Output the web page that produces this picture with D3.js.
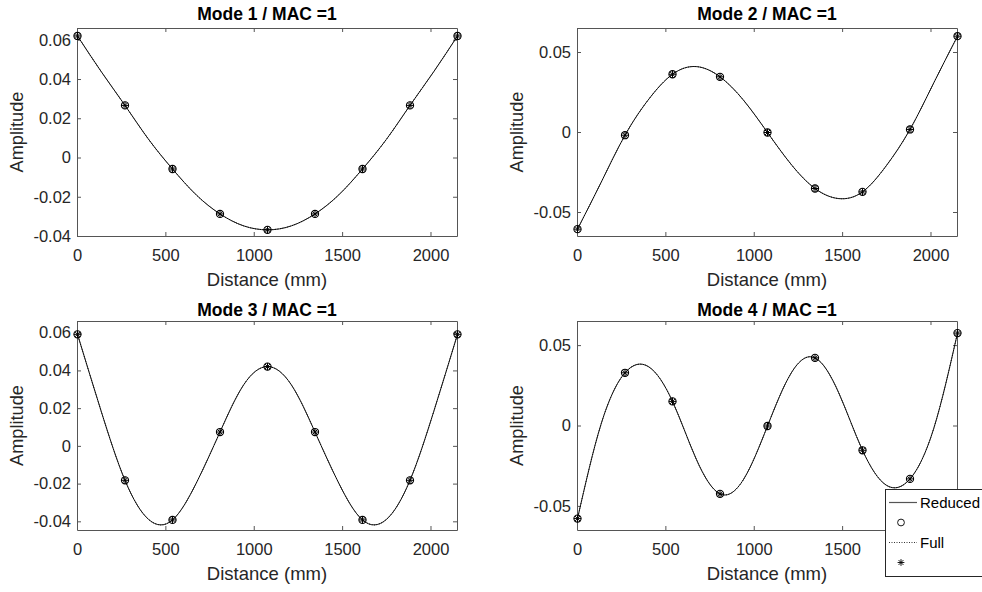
<!DOCTYPE html>
<html>
<head>
<meta charset="utf-8">
<script src="https://cdn.jsdelivr.net/npm/d3@7"></script>
<style>
  html, body { margin: 0; padding: 0; background: #fff; }
  svg { display: block; font-family: "Liberation Sans", Arial, Helvetica, sans-serif; }
</style>
</head>
<body>
<svg id="chart" width="982" height="592"></svg>
<script>
// ---------------- data ----------------
const titles = ["Mode 1 / MAC =1", "Mode 2 / MAC =1", "Mode 3 / MAC =1", "Mode 4 / MAC =1"];
const xLabel = "Distance (mm)";
const yLabel = "Amplitude";
const legendLabels = ["Reduced", "", "Full", ""];

// measurement node positions (mm)
const xNodes = [0, 268.75, 537.5, 806.25, 1075, 1343.75, 1612.5, 1881.25, 2150];
// fine positions along the beam for the mode-shape line (mm)
const xCurve = [0, 134.375, 268.75, 403.125, 537.5, 671.875, 806.25, 940.625, 1075,
                1209.375, 1343.75, 1478.125, 1612.5, 1746.875, 1881.25, 2015.625, 2150];

// node amplitudes (Reduced circles and Full asterisks coincide)
const mode1Nodes = [0.0622, 0.0268, -0.0056, -0.0285, -0.0366, -0.0285, -0.0056, 0.0268, 0.0622];
const mode2Nodes = [-0.0604, -0.0017, 0.0364, 0.0348, 0.0, -0.0350, -0.0371, 0.0019, 0.0602];
const mode3Nodes = [0.0594, -0.0180, -0.0390, 0.0076, 0.0423, 0.0076, -0.0390, -0.0180, 0.0594];
const mode4Nodes = [-0.0576, 0.0331, 0.0153, -0.0422, 0.0, 0.0424, -0.0151, -0.0329, 0.0578];

// mode-shape lines (Reduced solid and Full dotted coincide)
const mode1Curve = [0.0622, 0.0440, 0.0268, 0.0094, -0.0056, -0.0188, -0.0285, -0.0346, -0.0366,
                    -0.0346, -0.0285, -0.0188, -0.0056, 0.0094, 0.0268, 0.0440, 0.0622];
const mode2Curve = [-0.0604, -0.0310, -0.0017, 0.0208, 0.0364, 0.0412, 0.0348, 0.0200, 0.0,
                    -0.0200, -0.0350, -0.0413, -0.0371, -0.0208, 0.0019, 0.0310, 0.0602];
const mode3Curve = [0.0594, 0.0185, -0.0180, -0.0388, -0.0390, -0.0195, 0.0076, 0.0327, 0.0423,
                    0.0327, 0.0076, -0.0195, -0.0390, -0.0388, -0.0180, 0.0185, 0.0594];
const mode4Curve = [-0.0576, 0.0015, 0.0331, 0.0368, 0.0153, -0.0206, -0.0422, -0.0330, 0.0,
                    0.0330, 0.0424, 0.0206, -0.0151, -0.0368, -0.0329, -0.0015, 0.0578];

const xDomain = [0, 2150];
const xTicks = [0, 500, 1000, 1500, 2000];
const yDomains = [[-0.04, 0.066], [-0.065, 0.065], [-0.0446, 0.0662], [-0.065, 0.065]];
const yTicks = [[-0.04, -0.02, 0, 0.02, 0.04, 0.06], [-0.05, 0, 0.05],
                [-0.04, -0.02, 0, 0.02, 0.04, 0.06], [-0.05, 0, 0.05]];

const nodesAll = [mode1Nodes, mode2Nodes, mode3Nodes, mode4Nodes];
const curvesAll = [mode1Curve, mode2Curve, mode3Curve, mode4Curve];

// ---------------- layout ----------------
const svg = d3.select("#chart");
const W = 380;
const panels = [
  { left: 77,  top: 28,  h: 208, titleY: 20,  ylabX: 23 },
  { left: 577, top: 28,  h: 208, titleY: 20,  ylabX: 522.5 },
  { left: 77,  top: 321, h: 209, titleY: 315.5, ylabX: 23 },
  { left: 577, top: 321, h: 209, titleY: 315.5, ylabX: 522.5 }
];
const legendBox = { x: 885.5, y: 489.5, w: 110, h: 87 };
const axisColor = "#555";
const textColor = "#262626";
const fmt = v => (v === 0 ? "0" : String(v));

function asteriskPath(cx, cy, r) {
  const d = r * 0.72;
  return `M${cx - r},${cy}H${cx + r}M${cx},${cy - r}V${cy + r}` +
         `M${cx - d},${cy - d}L${cx + d},${cy + d}M${cx - d},${cy + d}L${cx + d},${cy - d}`;
}

panels.forEach((p, i) => {
  const x = d3.scaleLinear().domain(xDomain).range([0, W]);
  const y = d3.scaleLinear().domain(yDomains[i]).range([p.h, 0]);
  const g = svg.append("g").attr("transform", `translate(${p.left},${p.top})`);

  // axes (box with inward ticks)
  const bottomAxis = g.append("g").attr("transform", `translate(0,${p.h})`)
      .call(d3.axisBottom(x).tickValues(xTicks).tickSizeInner(-4).tickSizeOuter(0).tickPadding(13.3).tickFormat(fmt));
  const ax = [
    bottomAxis,
    g.append("g")
      .call(d3.axisTop(x).tickValues(xTicks).tickSizeInner(-4).tickSizeOuter(0).tickFormat("")),
    g.append("g")
      .call(d3.axisLeft(y).tickValues(yTicks[i]).tickSizeInner(-4).tickSizeOuter(0).tickPadding(6).tickFormat(fmt)),
    g.append("g").attr("transform", `translate(${W},0)`)
      .call(d3.axisRight(y).tickValues(yTicks[i]).tickSizeInner(-4).tickSizeOuter(0).tickFormat(""))
  ];
  ax.forEach(a => {
    a.select(".domain").attr("stroke", axisColor).attr("stroke-width", 1);
    a.selectAll(".tick line").attr("stroke", axisColor).attr("stroke-width", 1);
    a.selectAll(".tick text").attr("fill", textColor).attr("font-size", 16.5)
      .attr("font-family", "\"Liberation Sans\", Arial, Helvetica, sans-serif");
  });
  // tick labels that sit under the legend box are hidden by it in the reference
  bottomAxis.selectAll(".tick").each(function (v) {
    const px = p.left + x(v);
    if (px > legendBox.x && p.top + p.h + 20 > legendBox.y && p.top + p.h + 20 < legendBox.y + legendBox.h) {
      d3.select(this).select("text").remove();
    }
  });

  // plot content
  const pg = g.append("g").attr("transform", "translate(0.5,0.5)");
  const line = d3.line().x((d, k) => x(xCurve[k])).y(d => y(d)).curve(d3.curveNatural);
  pg.append("path").datum(curvesAll[i]).attr("d", line)
    .attr("fill", "none").attr("stroke", "#000").attr("stroke-width", 0.9);
  pg.append("path").datum(curvesAll[i]).attr("d", line)
    .attr("fill", "none").attr("stroke", "#000").attr("stroke-width", 0.9).attr("stroke-dasharray", "1,1.5");

  pg.selectAll("circle.node").data(nodesAll[i]).join("circle")
    .attr("class", "node")
    .attr("cx", (d, k) => x(xNodes[k])).attr("cy", d => y(d)).attr("r", 3.6)
    .attr("fill", "none").attr("stroke", "#000").attr("stroke-width", 1.1);
  pg.selectAll("path.star").data(nodesAll[i]).join("path")
    .attr("class", "star")
    .attr("d", (d, k) => asteriskPath(x(xNodes[k]), y(d), 3.6))
    .attr("fill", "none").attr("stroke", "#000").attr("stroke-width", 1);

  // title
  svg.append("text").attr("x", p.left + W / 2).attr("y", p.titleY)
    .attr("text-anchor", "middle").attr("font-weight", "bold").attr("font-size", 17.5)
    .attr("fill", "#000").text(titles[i]);
  // x label
  svg.append("text").attr("x", p.left + W / 2).attr("y", p.top + p.h + 50)
    .attr("text-anchor", "middle").attr("font-size", 18.5).attr("fill", textColor).text(xLabel);
  // y label
  svg.append("text")
    .attr("transform", `translate(${p.ylabX},${p.top + p.h / 2}) rotate(-90)`)
    .attr("text-anchor", "middle").attr("font-size", 18.2).attr("fill", textColor).text(yLabel);
});

// ---------------- legend ----------------
const lg = svg.append("g");
lg.append("rect").attr("x", legendBox.x).attr("y", legendBox.y).attr("width", legendBox.w).attr("height", legendBox.h)
  .attr("fill", "#fff").attr("stroke", "#262626").attr("stroke-width", 1);
const rowsY = [502.5, 522.5, 542.5, 562.5];
lg.append("line").attr("x1", 889).attr("x2", 917).attr("y1", rowsY[0]).attr("y2", rowsY[0])
  .attr("stroke", "#555").attr("stroke-width", 1.2);
lg.append("circle").attr("cx", 901).attr("cy", rowsY[1]).attr("r", 3.4)
  .attr("fill", "none").attr("stroke", "#000").attr("stroke-width", 0.9);
lg.append("line").attr("x1", 889).attr("x2", 917).attr("y1", rowsY[2]).attr("y2", rowsY[2])
  .attr("stroke", "#000").attr("stroke-width", 0.8).attr("stroke-dasharray", "1,1.5");
lg.append("path").attr("d", asteriskPath(901, rowsY[3], 3.4))
  .attr("fill", "none").attr("stroke", "#000").attr("stroke-width", 0.9);
legendLabels.forEach((t, k) => {
  if (!t) return;
  lg.append("text").attr("x", 920).attr("y", rowsY[k]).attr("dy", "0.35em")
    .attr("font-size", 15).attr("fill", "#000").text(t);
});
</script>
</body>
</html>
